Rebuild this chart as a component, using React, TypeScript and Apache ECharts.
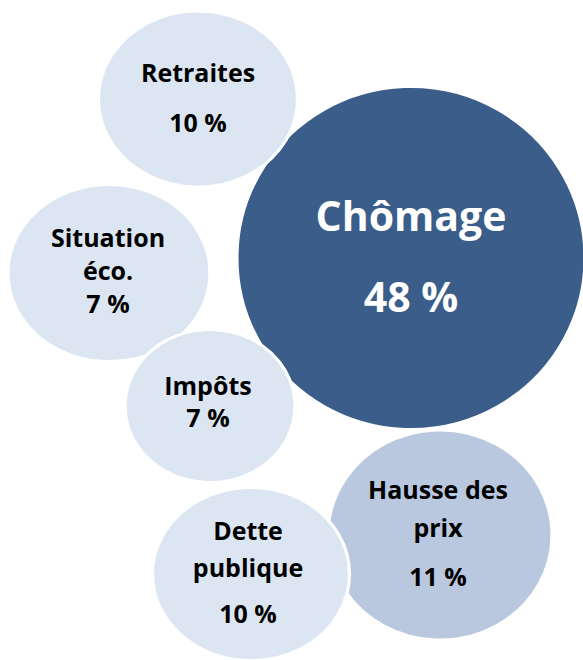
import React, { useEffect, useRef } from "react";
import * as echarts from "echarts";

// Data (in drawing order: later items are drawn on top)
const categories = ["Chômage", "Hausse des prix", "Situation éco.", "Retraites", "Impôts", "Dette publique"];
const labelLines = [["Chômage"], ["Hausse des", "prix"], ["Situation", "éco."], ["Retraites"], ["Impôts"], ["Dette", "publique"]];
const values = [48, 11, 7, 10, 7, 10];

// Layout (pixel positions of bubble centres and sizes)
const centers = [[411, 258], [440, 535], [109, 273], [198, 99], [210, 406], [251, 574]];
const sizes = [[348, 343], [224, 210], [202, 177], [199, 176], [170, 153], [197, 173]];
const colors = ["#3a5d8a", "#b9c7df", "#dce6f2", "#dce6f2", "#dce6f2", "#dce6f2"];
const textColors = ["#ffffff", "#000000", "#000000", "#000000", "#000000", "#000000"];
const fontSizes = [41, 25, 25, 25, 25, 25];
const nameLineHeights = [81, 38, 33, 50, 32, 37];
const valueLineHeights = [81, 60, 33, 50, 32, 55];
const labelOffsets = [[0, -3], [-2, 3], [-1, -3], [0, -2], [-2, -5], [-3, 2]];

const FONT = "Open Sans";

export default function App() {
  const ref = useRef<HTMLDivElement>(null);
  useEffect(() => {
    document.body.style.margin = "0";
    if (!ref.current) return;
    const chart = echarts.init(ref.current, undefined, { renderer: "svg" });
    const data = categories.map((name, i) => ({
      name,
      value: [centers[i][0], centers[i][1], values[i]],
      symbolSize: sizes[i],
      itemStyle: { color: colors[i], borderColor: "#ffffff", borderWidth: 3, opacity: 1 },
      label: {
        show: true,
        position: "inside",
        offset: labelOffsets[i],
        formatter: () =>
          labelLines[i].map((l) => `{n|${l}}`).join("\n") + `\n{v|${values[i]} %}`,
        rich: {
          n: {
            fontFamily: FONT,
            fontWeight: "bold",
            fontSize: fontSizes[i],
            color: textColors[i],
            lineHeight: nameLineHeights[i],
            align: "center",
          },
          v: {
            fontFamily: FONT,
            fontWeight: "bold",
            fontSize: fontSizes[i],
            color: textColors[i],
            lineHeight: valueLineHeights[i],
            align: "center",
          },
        },
      },
    }));
    chart.setOption({
      animation: false,
      backgroundColor: "#ffffff",
      grid: { left: 0, right: 0, top: 0, bottom: 0 },
      xAxis: { type: "value", min: 0, max: 583, show: false },
      yAxis: { type: "value", min: 0, max: 660, inverse: true, show: false },
      series: [
        {
          type: "scatter",
          symbol: "circle",
          silent: true,
          data,
          emphasis: { disabled: true },
        },
      ],
    });
    return () => chart.dispose();
  }, []);
  return <div ref={ref} style={{ width: 583, height: 660 }} />;
}
